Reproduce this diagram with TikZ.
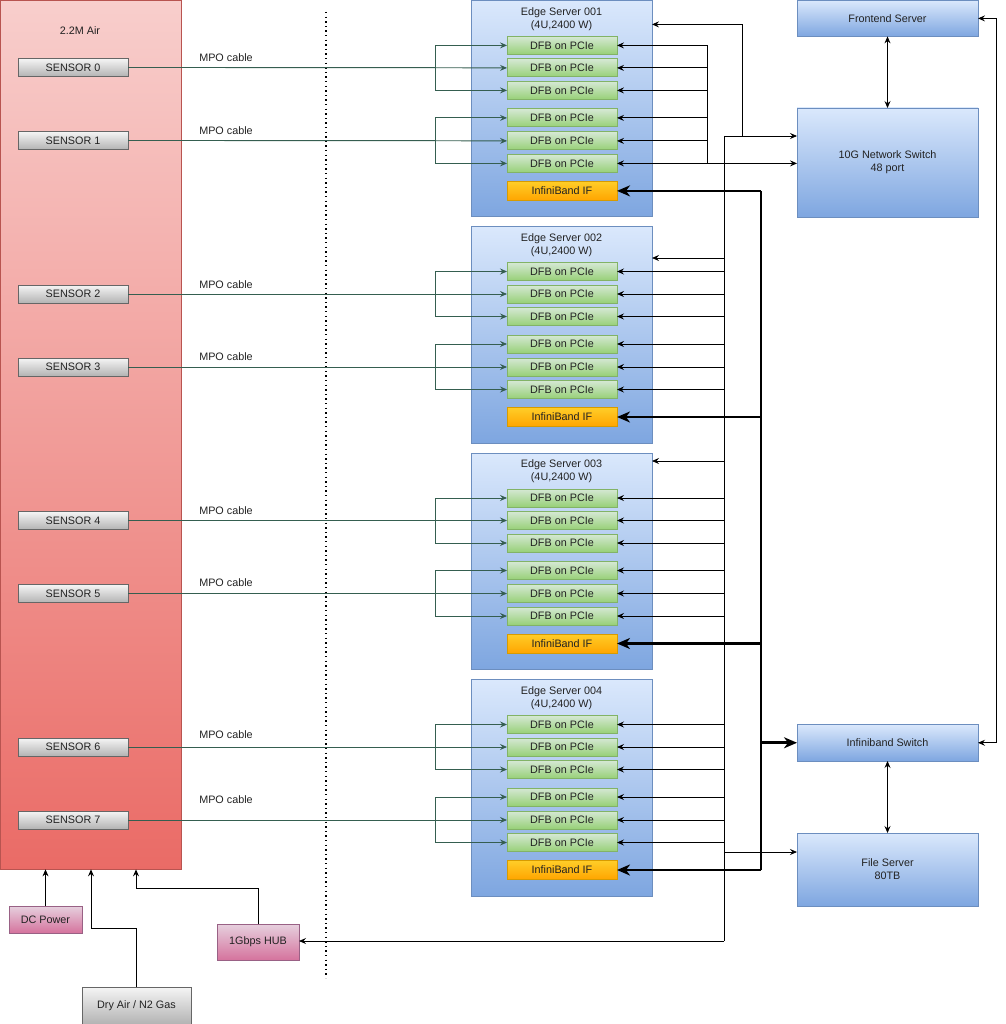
\documentclass[tikz,border=0pt]{standalone}
\usepackage{fontspec}
\setmainfont{Liberation Sans}
\usetikzlibrary{arrows.meta}
\definecolor{txt}{HTML}{222222}
\definecolor{blueT}{HTML}{DAE8FC}
\definecolor{blueB}{HTML}{7EA6E0}
\definecolor{blueD}{HTML}{6C8EBF}
\definecolor{greenT}{HTML}{D5E8D4}
\definecolor{greenB}{HTML}{97D077}
\definecolor{greenD}{HTML}{82B366}
\definecolor{orT}{HTML}{FFCD28}
\definecolor{orB}{HTML}{FFA500}
\definecolor{orD}{HTML}{D79B00}
\definecolor{grT}{HTML}{F5F5F5}
\definecolor{grB}{HTML}{B3B3B3}
\definecolor{grD}{HTML}{666666}
\definecolor{redT}{HTML}{F8CECC}
\definecolor{redB}{HTML}{EA6B66}
\definecolor{redD}{HTML}{B85450}
\definecolor{pkT}{HTML}{E6D0DE}
\definecolor{pkB}{HTML}{D5739D}
\definecolor{pkD}{HTML}{996185}
\definecolor{gline}{HTML}{355E50}
\tikzset{
  box/.style={draw, line width=0.8pt, inner sep=0pt, outer sep=0pt, align=center, text=txt},
  bluebox/.style={box, draw=blueD, top color=blueT, bottom color=blueB},
  dfb/.style={box, draw=greenD, top color=greenT, bottom color=greenB, minimum width=110pt, minimum height=18pt},
  ibif/.style={box, draw=orD, top color=orT, bottom color=orB, minimum width=110pt, minimum height=19pt},
  sensor/.style={box, draw=grD, top color=grT, bottom color=grB, minimum width=110pt, minimum height=18pt},
  pinkbox/.style={box, draw=pkD, top color=pkT, bottom color=pkB},
  label/.style={text=txt, inner sep=0pt, align=center},
  arr/.style={line width=0.8pt, draw=black, -{Stealth[length=7pt,width=6pt,inset=2.5pt]}},
  arrtwo/.style={line width=0.8pt, draw=black, {Stealth[length=7pt,width=6pt,inset=2.5pt]}-{Stealth[length=7pt,width=6pt,inset=2.5pt]}},
  garr/.style={line width=0.8pt, draw=gline, -{Stealth[length=7pt,width=6pt,inset=2.5pt]}},
  tarr/.style={line width=2.6pt, draw=black, -{Stealth[length=13pt,width=11pt,inset=4pt]}},
}
\begin{document}
\begin{tikzpicture}[x=1pt,y=-1pt,font=\fontsize{10.8}{13}\selectfont]
\useasboundingbox (0,0) rectangle (1005,1024);
% 2.2M Air chamber
\node[box, draw=redD, top color=redT, bottom color=redB, minimum width=181pt, minimum height=869pt, anchor=north west] (air) at (0.4,0.4) {};
\node[label] (airlbl) at (80,31) {2.2M Air};
% dotted separator
\draw[line width=1.4pt, dash pattern=on 1.4pt off 3.2pt] (326,12) -- (326,978);
% sensors
\foreach \i/\y in {0/67.5,1/140.5,2/294,3/367,4/520.5,5/593.5,6/747,7/820}{
  \node[sensor] (s\i) at (73,\y) {SENSOR \i};
}
% MPO labels
\foreach \i/\y in {0/58,1/131,2/285,3/357,4/511,5/583,6/735,7/800}{
  \node[label] (mpo\i) at (226,\y) {MPO cable};
}
% edge servers
\foreach \n/\t in {1/0.4,2/226.5,3/453,4/679.5}{
  \node[bluebox, minimum width=181pt, minimum height=216.5pt, anchor=north west] (es\n) at (471,\t) {};
  \node[label] (est\n) at (561.5,\t+18.5) {Edge Server 00\n\\(4U,2400 W)};
  \foreach \k/\o in {1/45,2/67.5,3/90,4/117.5,5/140.5,6/163}{
    \node[dfb] (d\n\k) at (562,\t+\o) {DFB on PCIe};
  }
  \node[ibif] (ib\n) at (562,\t+190.5) {InfiniBand IF};
}
% right-hand servers
\node[bluebox, minimum width=181pt, minimum height=36pt, anchor=north west] (fe) at (797,0.4) {Frontend Server};
\node[bluebox, minimum width=181pt, minimum height=109pt, anchor=north west] (sw) at (797,108) {10G Network Switch\\48 port};
\node[bluebox, minimum width=181pt, minimum height=36.5pt, anchor=north west] (ibsw) at (797,724.5) {Infiniband Switch};
\node[bluebox, minimum width=181pt, minimum height=73pt, anchor=north west] (fs) at (797,833) {File Server\\80TB};
% bottom boxes
\node[pinkbox, minimum width=73pt, minimum height=27pt] (dc) at (45.5,919.5) {DC Power};
\node[pinkbox, minimum width=82pt, minimum height=36pt] (hub) at (258,942) {1Gbps HUB};
\node[box, draw=grD, top color=grT, bottom color=grB, minimum width=109pt, minimum height=37pt, anchor=north west] (dry) at (82,987) {Dry Air / N2 Gas};
% sensor -> DFB connections
\foreach \n/\a/\b in {1/0/1,2/2/3,3/4/5,4/6/7}{
  \draw[garr] (s\a.east) -- (d\n2.west);
  \draw[garr] (s\a.east) -| ([xshift=-72pt]d\n1.west) -- (d\n1.west);
  \draw[garr] (s\a.east) -| ([xshift=-72pt]d\n3.west) -- (d\n3.west);
  \draw[garr] (s\b.east) -- (d\n5.west);
  \draw[garr] (s\b.east) -| ([xshift=-72pt]d\n4.west) -- (d\n4.west);
  \draw[garr] (s\b.east) -| ([xshift=-72pt]d\n6.west) -- (d\n6.west);
}
% server 001 DFB bus to network switch
\draw[line width=0.8pt] ([xshift=90pt]d11.east) -- ([xshift=90pt]d16.east);
\foreach \k in {1,...,5}{
  \draw[arr] ([xshift=90pt]d1\k.east) -- (d1\k.east);
}
\draw[arrtwo] (d16.east) -- (sw.west |- d16.east);
% network bus
\coordinate (nb0) at (724,136);
\coordinate (nb1) at (742,136);
\coordinate (nb2) at (724,941);
\coordinate (nes2) at (724,258);
\coordinate (nes3) at (724,461);
\coordinate (nfs) at (724,852);
\draw[line width=0.8pt] (nb0) -- (nb2);
\draw[arr] (nb0) -- (sw.west |- nb0);
\draw[arr] (nb1) |- ([yshift=-24pt]es1.north east);
\draw[arr] (nes2) -- (es2.east |- nes2);
\draw[arr] (nes3) -- (es3.east |- nes3);
\foreach \n in {2,3,4}{
  \foreach \k in {1,...,6}{
    \draw[arr] ([xshift=107pt]d\n\k.east) -- (d\n\k.east);
  }
}
\draw[arr] (nfs) -- (fs.west |- nfs);
\draw[arr] (nb2) -- (hub.east |- nb2);
% infiniband bus
\draw[line width=2.6pt, line join=miter] ([xshift=144pt]ib1.east) -- ([xshift=144pt]ib4.east);
\foreach \n in {1,...,4}{
  \draw[tarr] ([xshift=144pt]ib\n.east) -- (ib\n.east);
}
\draw[tarr] (761,742.75) -- (ibsw.west);
% right-hand links
\draw[arrtwo] (fe.south) -- (sw.north);
\draw[arrtwo] (ibsw.south) -- (fs.north);
\draw[arrtwo] (ibsw.east) -- (996,742.75) |- (fe.east);
% utilities to chamber
\draw[arr] (dc.north) -- (dc.north |- air.south);
\draw[arr] (dry.north) |- (91,928) -- (91,869.4);
\draw[arr] (hub.north) |- (136,888) -- (136,869.4);
\end{tikzpicture}
\end{document}
